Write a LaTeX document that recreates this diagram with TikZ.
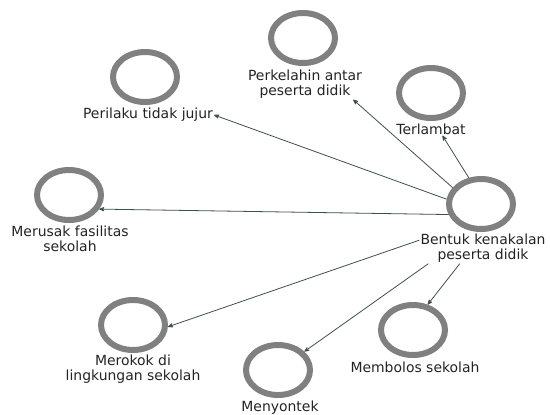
\documentclass[tikz,border=0pt]{standalone}
\usepackage{fontspec}
\setmainfont{DejaVu Sans}
\usetikzlibrary{arrows,shapes.geometric}
\definecolor{ringgray}{RGB}{128,128,128}
\definecolor{linkgray}{RGB}{62,80,76}
\definecolor{txtgray}{RGB}{35,35,35}

\begin{document}
\begin{tikzpicture}[x=1bp,y=-1bp,
  ring/.style={ellipse, draw=ringgray, line width=6bp, minimum width=64bp, minimum height=50bp, inner sep=0pt},
  lbl/.style={align=center, inner sep=1bp, text=txtgray, font=\fontsize{14}{15.5}\selectfont},
  link/.style={->, >=stealth', draw=linkgray, line width=0.8bp}]
  \useasboundingbox (0,0) rectangle (550,414);
  % the eight circles
  \node[ring] (perilaku) at (145,77) {};
  \node[ring] (perkelahin) at (303,38) {};
  \node[ring] (terlambat) at (431,93) {};
  \node[ring] (merusak) at (69,195) {};
  \node[ring] (bentuk) at (481,204) {};
  \node[ring] (merokok) at (133,325) {};
  \node[ring] (membolos) at (413,330) {};
  \node[ring] (menyontek) at (278,370) {};
  % their labels
  \node[lbl] (perilakuLbl) at (148,115) {Perilaku tidak jujur};
  \node[lbl] (perkelahinLbl) at (305,84) {Perkelahin antar\\peserta didik};
  \node[lbl] (terlambatLbl) at (431,129) {Terlambat};
  \node[lbl] (merusakLbl) at (70,239) {Merusak fasilitas\\sekolah};
  \node[lbl] (bentukLbl) at (483,248) {Bentuk kenakalan\\peserta didik};
  \node[lbl] (merokokLbl) at (133,369) {Merokok di\\lingkungan sekolah};
  \node[lbl] (membolosLbl) at (415,367) {Membolos sekolah};
  \node[lbl] (menyontekLbl) at (280,408) {Menyontek};
  % links
  \draw[link] (bentuk.150) -- (perkelahinLbl.-18);
  \draw[link] (bentuk.115) -- (terlambatLbl.-30);
  \draw[link] (bentuk.172) -- (perilakuLbl.east);
  \draw[link] (bentuk.198) -- (merusak.-25);
  \draw[link] (bentukLbl.173) -- (merokok.-3);
  \draw[link] (bentukLbl.196) -- (menyontek.35);
  \draw[link] (bentukLbl.214) -- (membolos.60);
\end{tikzpicture}
\end{document}
